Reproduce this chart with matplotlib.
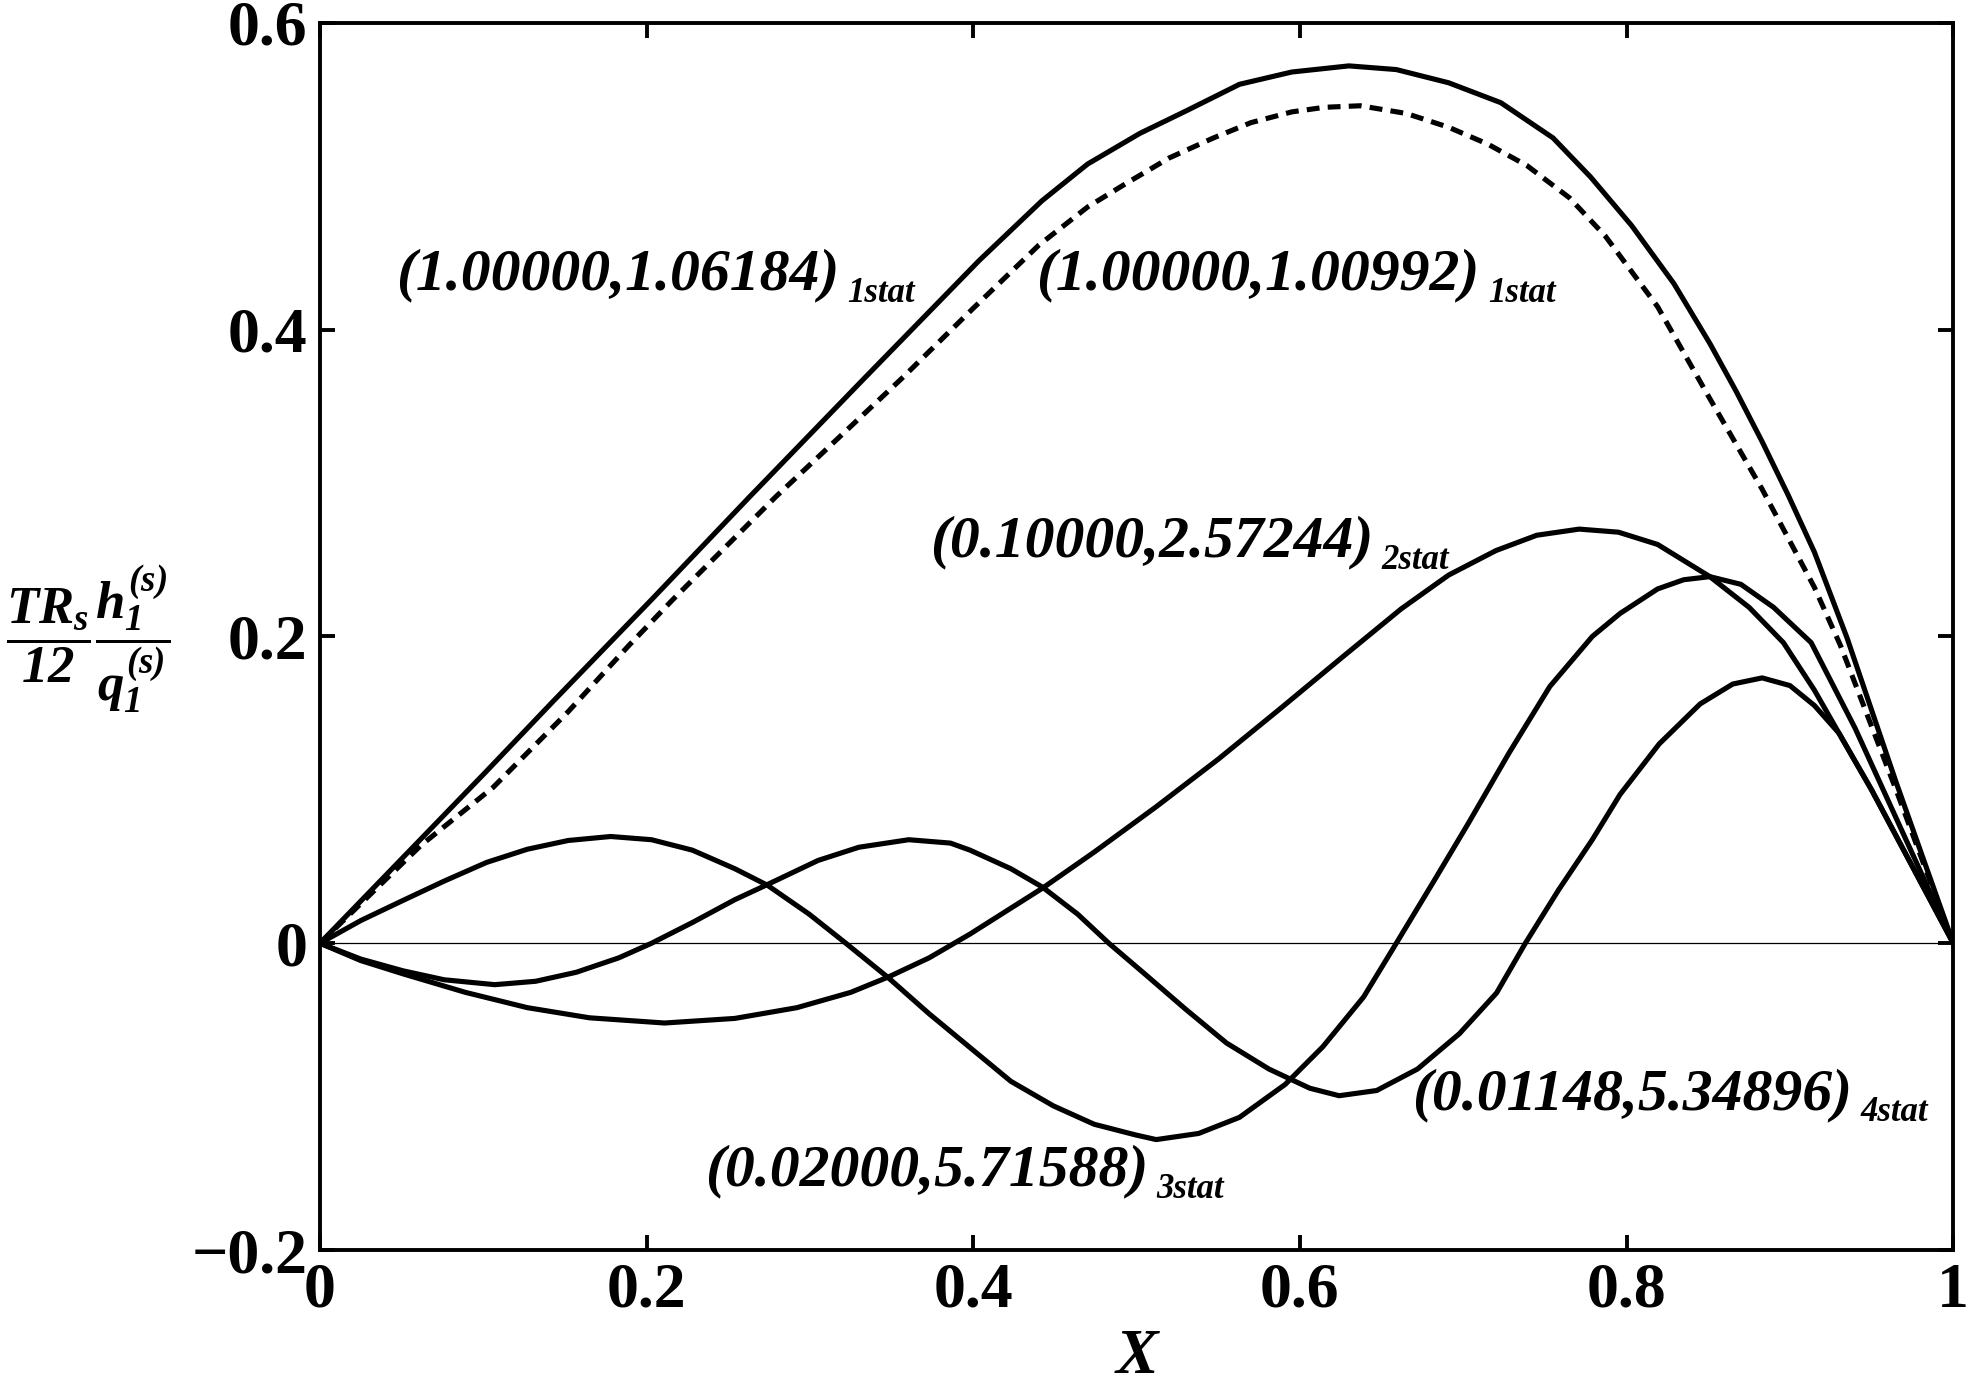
import matplotlib
matplotlib.use("Agg")
import matplotlib.pyplot as plt

# font: Times-like bold / bold italic
plt.rcParams['font.family'] = ['Liberation Serif', 'DejaVu Serif']
plt.rcParams['font.weight'] = 'bold'
plt.rcParams['mathtext.fontset'] = 'custom'
plt.rcParams['mathtext.rm'] = 'Liberation Serif:italic:bold'
plt.rcParams['mathtext.it'] = 'Liberation Serif:italic:bold'
plt.rcParams['mathtext.bf'] = 'Liberation Serif:italic:bold'

# curves
x_1stat_a = [0, 0.03, 0.06, 0.10, 0.143, 0.203, 0.263, 0.333, 0.4035, 0.442, 0.47, 0.502,
             0.531, 0.563, 0.595, 0.630, 0.659, 0.691, 0.723, 0.755, 0.778, 0.803, 0.829,
             0.851, 0.867, 0.883, 0.899, 0.915, 0.935, 0.965, 1.0]
y_1stat_a = [0, 0.033, 0.066, 0.110, 0.158, 0.224, 0.291, 0.368, 0.445, 0.484, 0.508, 0.528,
             0.543, 0.560, 0.568, 0.572, 0.5696, 0.561, 0.548, 0.525, 0.4995, 0.468, 0.430,
             0.391, 0.360, 0.327, 0.292, 0.255, 0.199, 0.105, 0]

x_1stat_b = [0, 0.03, 0.062, 0.106, 0.152, 0.189, 0.216, 0.279, 0.356, 0.40, 0.44, 0.47,
             0.493, 0.52, 0.547, 0.57, 0.595, 0.615, 0.637, 0.665, 0.691, 0.715, 0.739,
             0.765, 0.787, 0.819, 0.851, 0.883, 0.915, 0.931, 0.965, 1.0]
y_1stat_b = [0, 0.031, 0.064, 0.1016, 0.151, 0.194, 0.224, 0.291, 0.368, 0.414, 0.455, 0.48,
             0.495, 0.512, 0.525, 0.535, 0.542, 0.545, 0.546, 0.541, 0.532, 0.521, 0.507,
             0.486, 0.461, 0.415, 0.355, 0.296, 0.232, 0.194, 0.10, 0]

x_2stat = [0, 0.025, 0.051, 0.089, 0.127, 0.165, 0.211, 0.254, 0.292, 0.325, 0.348, 0.373,
           0.398, 0.4425, 0.474, 0.512, 0.550, 0.588, 0.6265, 0.662, 0.691, 0.72, 0.745,
           0.771, 0.795, 0.819, 0.851, 0.875, 0.896, 0.915, 0.93, 0.95, 0.975, 1.0]
y_2stat = [0, -0.0113, -0.020, -0.032, -0.042, -0.0486, -0.052, -0.049, -0.042, -0.032, -0.022,
           -0.0095, 0.006, 0.036, 0.0594, 0.089, 0.120, 0.153, 0.187, 0.218, 0.240, 0.256,
           0.266, 0.270, 0.268, 0.260, 0.239, 0.219, 0.196, 0.165, 0.137, 0.10, 0.05, 0]

x_3stat = [0, 0.025, 0.051, 0.076, 0.102, 0.127, 0.152, 0.178, 0.203, 0.228, 0.254, 0.274,
           0.2996, 0.322, 0.348, 0.373, 0.398, 0.423, 0.449, 0.474, 0.4995, 0.512, 0.538,
           0.563, 0.591, 0.614, 0.639, 0.659, 0.682, 0.703, 0.728, 0.753, 0.779, 0.796,
           0.819, 0.835, 0.851, 0.87, 0.89, 0.913, 0.94, 0.97, 1.0]
y_3stat = [0, 0.0148, 0.028, 0.0405, 0.0527, 0.0613, 0.067, 0.0696, 0.0675, 0.0607, 0.0486,
           0.0378, 0.0189, 0, -0.0225, -0.046, -0.068, -0.090, -0.106, -0.118, -0.125,
           -0.128, -0.124, -0.1135, -0.092, -0.0675, -0.035, 0, 0.0405, 0.078, 0.124, 0.1674,
           0.200, 0.215, 0.231, 0.237, 0.239, 0.234, 0.219, 0.196, 0.14, 0.07, 0]

x_4stat = [0, 0.025, 0.051, 0.076, 0.107, 0.132, 0.157, 0.183, 0.203, 0.228, 0.254, 0.274,
           0.305, 0.330, 0.3605, 0.386, 0.398, 0.423, 0.4425, 0.464, 0.483, 0.505, 0.53,
           0.555, 0.581, 0.606, 0.624, 0.647, 0.672, 0.6976, 0.7204, 0.738, 0.7585, 0.779,
           0.796, 0.82, 0.845, 0.865, 0.883, 0.90, 0.915, 0.93, 0.95, 0.975, 1.0]
y_4stat = [0, -0.0103, -0.018, -0.0238, -0.027, -0.0248, -0.0189, -0.0095, 0, 0.0135, 0.0284,
           0.0383, 0.054, 0.0626, 0.0675, 0.0653, 0.0607, 0.0486, 0.0365, 0.0189, 0, -0.020,
           -0.043, -0.065, -0.082, -0.0945, -0.0994, -0.096, -0.082, -0.059, -0.0324, 0,
           0.035, 0.0675, 0.097, 0.130, 0.156, 0.169, 0.173, 0.168, 0.155, 0.137, 0.10, 0.05, 0]

# annotation texts and their anchors (right end of main text, baseline)
labels = ['(1.00000,1.06184)', '(1.00000,1.00992)', '(0.10000,2.57244)',
          '(0.02000,5.71588)', '(0.01148,5.34896)']
subs = ['1stat', '1stat', '2stat', '3stat', '4stat']
label_x = [0.318, 0.710, 0.645, 0.507, 0.938]
label_y = [0.426, 0.426, 0.252, -0.158, -0.108]

xticks = [0, 0.2, 0.4, 0.6, 0.8, 1]
xticklabels = ['0', '0.2', '0.4', '0.6', '0.8', '1']
yticks = [-0.2, 0, 0.2, 0.4, 0.6]
yticklabels = ['\u22120.2', '0', '0.2', '0.4', '0.6']

fig = plt.figure(figsize=(19.69, 13.90), dpi=100)
ax = fig.add_axes([0.1625, 0.1007, 0.8295, 0.8828])

lw = 3.7
ax.axhline(0, color='k', lw=0.9)
ax.plot(x_1stat_a, y_1stat_a, color='k', lw=lw, solid_joinstyle='round')
ax.plot(x_1stat_b, y_1stat_b, color='k', lw=lw, linestyle=(0, (2.5, 1.6)))
ax.plot(x_2stat, y_2stat, color='k', lw=lw, solid_joinstyle='round')
ax.plot(x_3stat, y_3stat, color='k', lw=lw, solid_joinstyle='round')
ax.plot(x_4stat, y_4stat, color='k', lw=lw, solid_joinstyle='round')

for txt, sub, lx, ly in zip(labels, subs, label_x, label_y):
    ax.text(lx, ly, txt, ha='right', va='baseline', fontsize=43,
            fontstyle='italic', fontweight='bold')
    ax.text(lx + 0.005, ly - 0.008, sub, ha='left', va='baseline', fontsize=25,
            fontstyle='italic', fontweight='bold')

ax.set_xlim(0, 1)
ax.set_ylim(-0.2, 0.6)
ax.set_xticks(xticks)
ax.set_xticklabels(xticklabels)
ax.set_yticks(yticks)
ax.set_yticklabels(yticklabels)
ax.tick_params(direction='in', top=True, right=True, length=11, width=2.8,
               labelsize=46, pad=9)
for lab in ax.get_xticklabels() + ax.get_yticklabels():
    lab.set_fontweight('bold')
for s in ax.spines.values():
    s.set_linewidth(2.8)

ax.set_xlabel('X', fontsize=46, fontstyle='italic', fontweight='bold', labelpad=6)
fig.text(0.045, 0.54, r'$\dfrac{TR_s}{\mathit{12}}\dfrac{h_1^{(s)}}{q_1^{(s)}}$',
         fontsize=38, ha='center', va='center')

fig.savefig('out.png', dpi=100)
